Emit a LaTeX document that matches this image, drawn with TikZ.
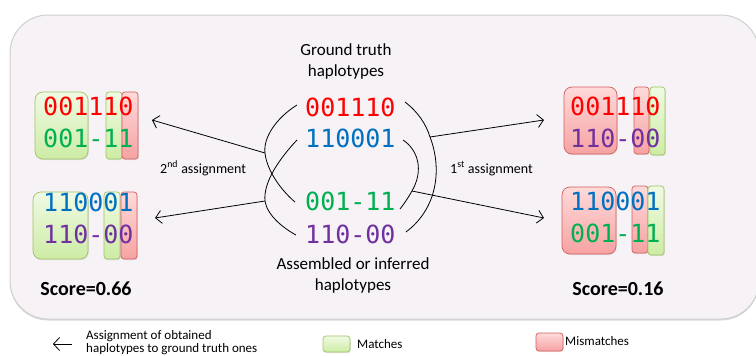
\documentclass[tikz,border=0pt]{standalone}
\usepackage{fontspec}
\setmainfont{Carlito}
\newfontfamily\hapmono{DejaVu Sans Mono}
\usetikzlibrary{arrows.meta}
\usetikzlibrary{positioning}
\usetikzlibrary{shadows}
\definecolor{hred}{RGB}{255,0,0}
\definecolor{hblue}{RGB}{0,112,192}
\definecolor{hgreen}{RGB}{0,176,80}
\definecolor{hpurple}{RGB}{112,48,160}
\definecolor{panelfill}{RGB}{246,242,246}
\definecolor{paneldraw}{RGB}{208,208,208}
\definecolor{okdraw}{RGB}{160,196,100}
\definecolor{oktop}{RGB}{240,250,228}
\definecolor{okbot}{RGB}{205,236,165}
\definecolor{nodraw}{RGB}{212,95,95}
\definecolor{notop}{RGB}{255,218,218}
\definecolor{nobot}{RGB}{246,162,162}
\begin{document}
\begin{tikzpicture}[x=1pt,y=-1pt,
				hap/.style={font=\hapmono\fontsize{25}{25}\selectfont,inner sep=0pt,anchor=base west},
				lbl/.style={font=\fontsize{17}{20}\selectfont,inner sep=0pt,anchor=base},
				small/.style={font=\fontsize{13}{15}\selectfont,inner sep=0pt,anchor=base west},
				asg/.style={font=\fontsize{14}{16}\selectfont,inner sep=0pt,anchor=base west},
				score/.style={font=\bfseries\fontsize{20}{24}\selectfont,inner sep=0pt,anchor=base},
				okbox/.style={draw=okdraw,top color=oktop,bottom color=okbot,line width=0.7pt,
					drop shadow={shadow xshift=0.8pt,shadow yshift=-1.2pt,opacity=0.2}},
				nobox/.style={draw=nodraw,top color=notop,bottom color=nobot,line width=0.7pt,
					drop shadow={shadow xshift=0.8pt,shadow yshift=-1.2pt,opacity=0.2}},
				link/.style={line width=0.8pt},
				assign/.style={line width=0.8pt,-{Straight Barb[length=6pt,width=13pt]}}
				]
				\useasboundingbox (0,0) rectangle (756,356);
				\draw[paneldraw,fill=panelfill,line width=1pt,rounded corners=38pt,
					drop shadow={shadow xshift=0pt,shadow yshift=-1.5pt,opacity=0.3}] (10,15) rectangle (759,319);

				\path[okbox,rounded corners=8pt] (35,92) rectangle (88,159);
				\path[okbox,rounded corners=3pt] (106,92) rectangle (122,159);
				\path[nobox,rounded corners=3pt] (122,92) rectangle (138,159);
				\path[okbox,rounded corners=8pt] (33,192) rectangle (88,259);
				\path[okbox,rounded corners=3pt] (104,192) rectangle (120,259);
				\path[nobox,rounded corners=3pt] (121,192) rectangle (137,259);
				\path[nobox,rounded corners=8pt] (564,87) rectangle (617,154);
				\path[nobox,rounded corners=3pt] (634,87) rectangle (649,154);
				\path[okbox,rounded corners=3pt] (650,87) rectangle (665,155);
				\path[nobox,rounded corners=8pt] (562,187) rectangle (616,254);
				\path[nobox,rounded corners=3pt] (632,186) rectangle (648,253);
				\path[okbox,rounded corners=3pt] (648,186) rectangle (664,255);

				\node[lbl] (gt1) at (346,55) {Ground truth};
				\node[lbl] (gt2) at (346,76) {haplotypes};
				\node[hap,text=hred] (g1) at (305,116) {001110};
				\node[hap,text=hblue] (g2) at (305,147) {110001};
				\node[hap,text=hgreen] (a1) at (305,210) {001-11};
				\node[hap,text=hpurple] (a2) at (305,243) {110-00};
				\node[lbl] (as1) at (353,269) {Assembled or inferred};
				\node[lbl] (as2) at (353,290) {haplotypes};

				\node[hap,text=hred] (l1) at (43,115) {001110};
				\node[hap,text=hgreen] (l2) at (43,147) {001-11};
				\node[hap,text=hblue] (l3) at (43,211) {110001};
				\node[hap,text=hpurple] (l4) at (43,243) {110-00};
				\node[hap,text=hred] (r1) at (570,115) {001110};
				\node[hap,text=hpurple] (r2) at (570,147) {110-00};
				\node[hap,text=hblue] (r3) at (570,210) {110001};
				\node[hap,text=hgreen] (r4) at (570,242) {001-11};

				\node[score] (sl) at (86,295) {Score=0.66};
				\node[score] (sr) at (618,295) {Score=0.16};
				\node[asg] (sec) at (160,173) {2\textsuperscript{nd} assignment};
				\node[asg] (fst) at (450,173) {1\textsuperscript{st} assignment};

				\draw[link] (297,105) .. controls (276,118) and (263,138) .. (265,153) coordinate (j2a)
					.. controls (267,172) and (283,192) .. (295,202);
				\draw[link] (297,140) .. controls (280,158) and (263,182) .. (265,201) coordinate (j2b)
					.. controls (267,215) and (283,228) .. (296,235);
				\draw[link] (405,102) .. controls (418,112) and (426,124) .. (430,137) coordinate (j1a)
					.. controls (442,168) and (438,208) .. (406,232);
				\draw[link] (403,140) .. controls (418,150) and (424,170) .. (412,191) coordinate (j1b)
					.. controls (408,198) and (404,204) .. (400,209);

				\coordinate (tl) at (152,120);
				\coordinate (bl) at (155,218);
				\coordinate (tr) at (544,120);
				\coordinate (br) at (544,218);
				\draw[assign] (j2a) -- (tl);
				\draw[assign] (j2b) -- (bl);
				\draw[assign] (j1a) -- (tr);
				\draw[assign] (j1b) -- (br);

				\coordinate (lgs) at (72,344);
				\coordinate (lge) at (53,344);
				\draw[assign] (lgs) -- (lge);
				\node[small] (lg1) at (86,339) {Assignment of obtained};
				\node[small] (lg2) at (86,352.5) {haplotypes to ground truth ones};
				\path[okbox,rounded corners=3pt] (323,336) rectangle (350,352);
				\node[small] (lg3) at (357,348) {Matches};
				\path[nobox,rounded corners=3pt] (536,333) rectangle (563,351);
				\node[small] (lg4) at (565,345) {Mismatches};
\end{tikzpicture}
\end{document}
